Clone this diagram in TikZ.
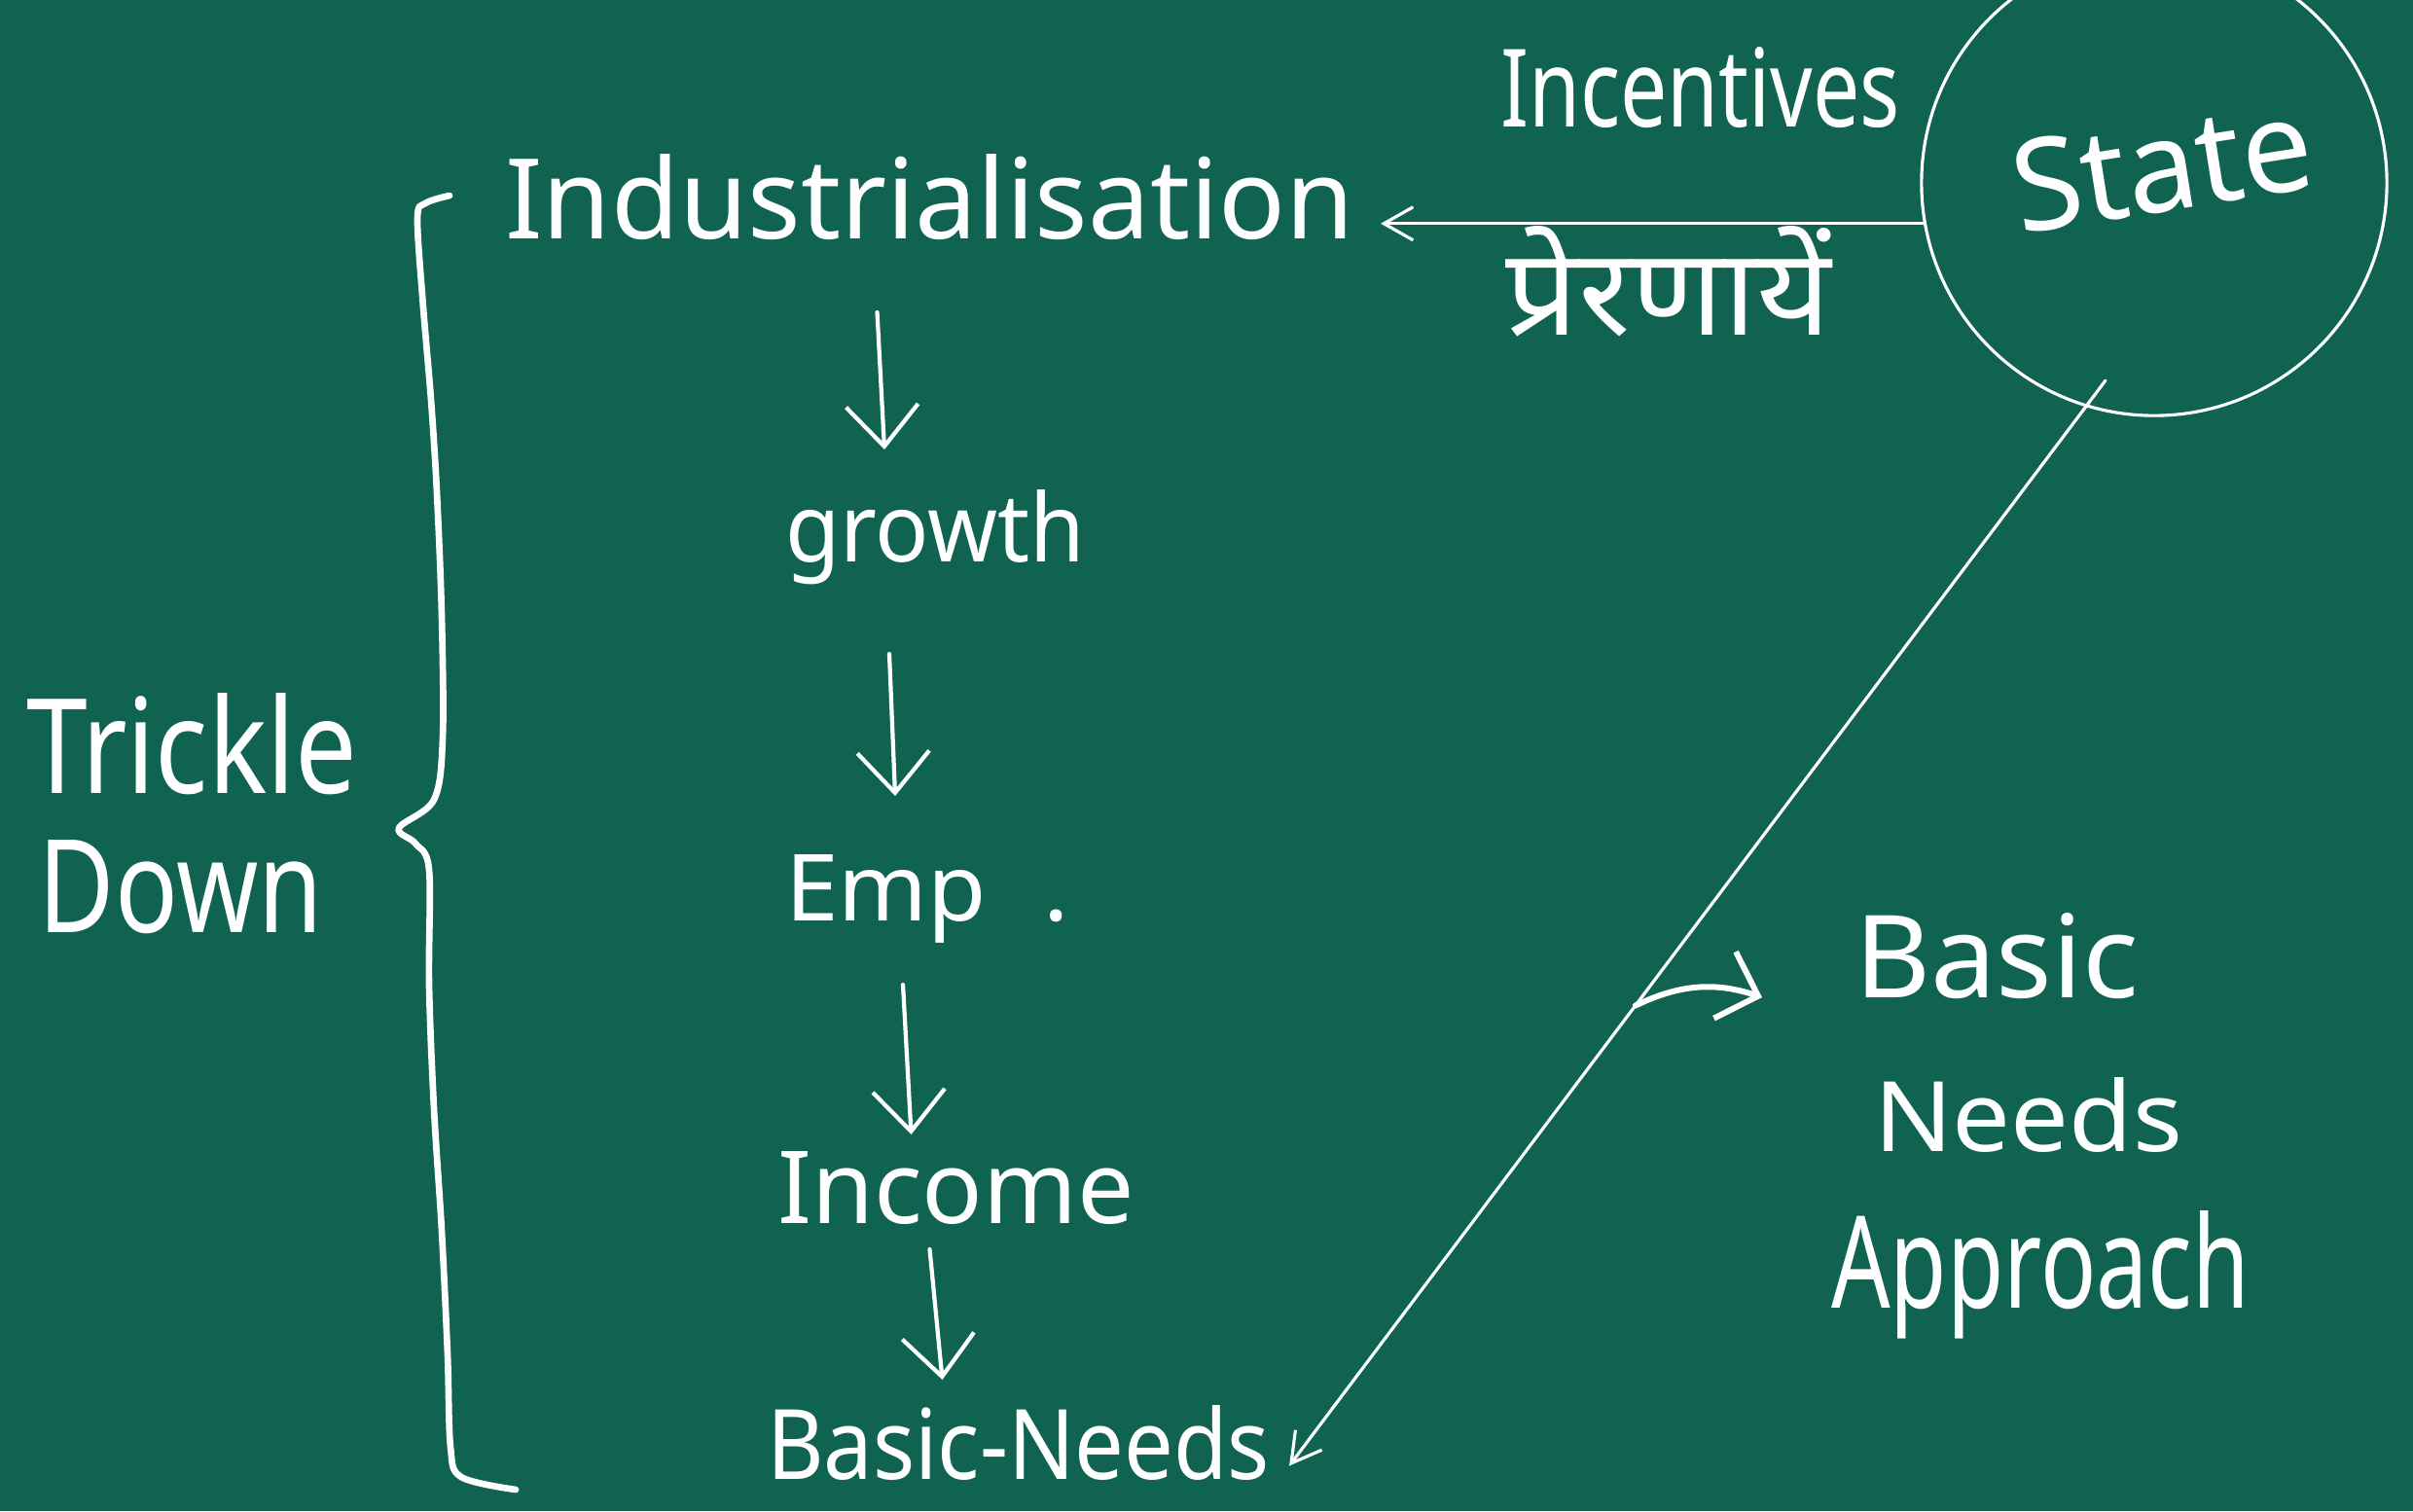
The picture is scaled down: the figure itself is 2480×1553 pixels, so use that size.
\documentclass[tikz,border=0pt]{standalone}
\usepackage{fontspec}
\setmainfont{Noto Sans}
\newfontfamily\deva[Script=Devanagari]{Noto Sans}
\usetikzlibrary{arrows.meta,calc}
\definecolor{board}{RGB}{15,99,80}
\newdimen\pxu \pxu=0.01cm
% handwritten word fitted to a width and a height (in board units)
\newcommand{\hw}[3]{\resizebox{#1\pxu}{#2\pxu}{#3}}

\begin{document}
\begin{tikzpicture}[x=0.01cm,y=-0.01cm,
  word/.style={text=white,inner sep=0pt,outer sep=0pt,anchor=base west},
  thinline/.style={draw=white,line width=0.9pt,line cap=round},
  smalltip/.style={-{Straight Barb[length=0.3cm,width=0.34cm]}},
  downarrow/.style={draw=white,line width=1.2pt,line cap=round,
    -{Straight Barb[length=0.42cm,width=0.74cm]}},
  bendarrow/.style={draw=white,line width=1.7pt,line cap=round,
    -{Straight Barb[length=0.36cm,width=0.72cm]}},
  bracestroke/.style={draw=white,line width=1.9pt,line cap=round,line join=round}]

\path[use as bounding box] (0,0) rectangle (2480,1553);
\clip (0,0) rectangle (2480,1553);
\fill[board] (0,0) rectangle (2480,1553);

% main chain
\node[word] (ind)    at (519,245)  {\hw{873}{87}{Industrialisation}};
\node[word] (growth) at (807,577)  {\hw{308}{74}{growth}};
\node[word] (emp)    at (807,946)  {\hw{292}{68}{Emp\kern0.6em.}};
\node[word] (inc)    at (799,1257) {\hw{367}{74}{Income}};
\node[word] (bn)     at (788,1520) {\hw{517}{76}{Basic-Needs}};

\draw[downarrow] ([shift={(-54,76)}]ind.base)    -- ([shift={(-52,-41)}]growth.north);
\draw[downarrow] ([shift={(-47,95)}]growth.base) -- ([shift={(-33,-60)}]emp.north);
\draw[downarrow] ([shift={(-25,66)}]emp.base)    -- ([shift={(-46,-17)}]inc.north);
\draw[downarrow] ([shift={(-27,27)}]inc.base)    -- ([shift={(-78,-26)}]bn.north);

% state and its incentives
\node[draw=white,line width=0.9pt,circle,minimum size=4.78cm,inner sep=0pt] (state) at (2214,188) {};
\node[text=white,inner sep=0pt,rotate=9] (stxt) at (2222,170) {\hw{310}{95}{State}};
\node[word] (incent) at (1542,130) {\hw{411}{82}{Incentives}};
\node[word] (prer)   at (1547,344) {\hw{335}{112}{\deva प्रेरणायें}};

\draw[thinline,smalltip,shorten >=0.27cm] (state.190) -- (state.190 -| ind.east);

% state to basic needs
\coordinate (lt) at ($(state.center)+(-50,203)$);
\draw[thinline,smalltip] (lt) -- ([shift={(20,24)}]bn.east) coordinate[pos=0.576] (br);

% basic needs approach
\node[word] (basic) at (1906,1025) {\hw{292}{87}{Basic}};
\node[word] (needs) at (1926,1183) {\hw{317}{76}{Needs}};
\node[word] (appr)  at (1882,1344) {\hw{430}{100}{Approach}};
\draw[bendarrow] (br) to[bend left=22] ([shift={(-95,0)}]basic.base west);

% trickle down brace
\node[word] (trick) at (27,815) {\hw{340}{103}{Trickle}};
\node[word] (down)  at (40,958) {\hw{292}{95}{Down}};
\draw[bracestroke] plot[smooth,tension=0.55] coordinates {
  (462,201) (437,209) (429,225) (435,316) (443,411) (449,506) (454,633)
  (455,759) (446,822) (410,851) (427,867) (441,894) (441,1012) (446,1139)
  (454,1265) (460,1392) (463,1487) (474,1518) (530,1531)};

\end{tikzpicture}
\end{document}
